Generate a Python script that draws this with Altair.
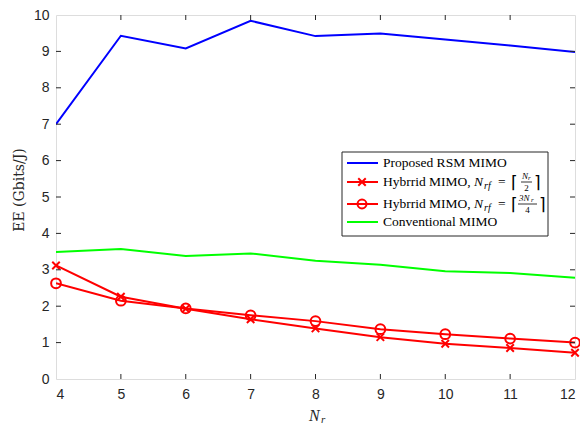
import altair as alt
import pandas as pd

# ---- data ----
nr = [4, 5, 6, 7, 8, 9, 10, 11, 12]
ee_rsm = [7.00, 9.43, 9.08, 9.84, 9.42, 9.49, 9.33, 9.16, 8.98]
ee_hyb_half = [3.12, 2.26, 1.93, 1.64, 1.39, 1.15, 0.97, 0.85, 0.72]
ee_hyb_3q = [2.63, 2.15, 1.94, 1.75, 1.59, 1.37, 1.23, 1.11, 1.00]
ee_conv = [3.49, 3.57, 3.38, 3.45, 3.25, 3.14, 2.96, 2.91, 2.78]
series = ["Proposed RSM MIMO", "Hybrid half", "Hybrid 3/4", "Conventional MIMO"]
x_ticks = [4, 5, 6, 7, 8, 9, 10, 11, 12]
y_ticks = [0, 1, 2, 3, 4, 5, 6, 7, 8, 9, 10]

W, H = 519, 364
FRAME = "#262626"
SERIF = "Liberation Serif"
SANS = "Liberation Sans"

rows = []
for s, vals in zip(series, [ee_rsm, ee_hyb_half, ee_hyb_3q, ee_conv]):
    for n, v in zip(nr, vals):
        rows.append({"Nr": n, "EE": v, "series": s})
df = pd.DataFrame(rows)

xs = alt.Scale(domain=[4, 12], nice=False, zero=False)
ys = alt.Scale(domain=[0, 10], nice=False)
color = alt.Scale(domain=series, range=["#0000FF", "#FF0000", "#FF0000", "#00FF00"])

ax_x = alt.Axis(values=x_ticks, format="d", title=None, domain=False, ticks=False,
                grid=False, labelOverlap=False, labelFont=SANS, labelFontSize=14,
                labelColor=FRAME, labelPadding=8)
ax_y = alt.Axis(values=y_ticks, format="d", title=None, domain=False, ticks=False,
                grid=False, labelOverlap=False, labelFont=SANS, labelFontSize=14,
                labelColor=FRAME, labelPadding=7)

def X(f):
    return alt.X(f, scale=xs, axis=ax_x)

def Y(f):
    return alt.Y(f, scale=ys, axis=ax_y)

X_PATH = "M-1,-1L1,1M-1,1L1,-1"

lines = alt.Chart(df).mark_line(strokeWidth=2, clip=True).encode(
    x=X("Nr:Q"), y=Y("EE:Q"),
    color=alt.Color("series:N", scale=color, legend=None),
    detail="series:N",
)

pts_x = alt.Chart(df[df.series == "Hybrid half"]).mark_point(
    shape=X_PATH, size=56, filled=False, strokeWidth=2, color="#FF0000", opacity=1
).encode(x=X("Nr:Q"), y=Y("EE:Q"))

pts_o = alt.Chart(df[df.series == "Hybrid 3/4"]).mark_point(
    shape="circle", size=95, filled=False, strokeWidth=2, color="#FF0000", opacity=1
).encode(x=X("Nr:Q"), y=Y("EE:Q"))

# inward ticks on all four sides
tx = pd.DataFrame({"Nr": x_ticks[1:-1]})
ty = pd.DataFrame({"EE": y_ticks[1:-1]})
tick_b = alt.Chart(tx).mark_rule(color=FRAME, strokeWidth=1).encode(
    x=X("Nr:Q"), y=alt.value(H), y2=alt.value(H - 5))
tick_t = alt.Chart(tx).mark_rule(color=FRAME, strokeWidth=1).encode(
    x=X("Nr:Q"), y=alt.value(0), y2=alt.value(5))
tick_l = alt.Chart(ty).mark_rule(color=FRAME, strokeWidth=1).encode(
    y=Y("EE:Q"), x=alt.value(0), x2=alt.value(5))
tick_r = alt.Chart(ty).mark_rule(color=FRAME, strokeWidth=1).encode(
    y=Y("EE:Q"), x=alt.value(W - 5), x2=alt.value(W))

def txt(s, x, y, size=13.5, style="normal", align="left", angle=0, font=SERIF, color="#000000"):
    kw = dict(text=s, font=font, fontSize=size, fontStyle=style, align=align,
              baseline="middle", color=color)
    if angle:
        kw["angle"] = angle
    return alt.Chart(pd.DataFrame({"a": [0]})).mark_text(**kw).encode(
        x=alt.value(x), y=alt.value(y))

def rule(x1, x2, y1, y2, color, width=2):
    return alt.Chart(pd.DataFrame({"a": [0]})).mark_rule(color=color, strokeWidth=width).encode(
        x=alt.value(x1), x2=alt.value(x2), y=alt.value(y1), y2=alt.value(y2))

def sym(shape, x, y, size):
    return alt.Chart(pd.DataFrame({"a": [0]})).mark_point(
        shape=shape, size=size, filled=False, strokeWidth=2, color="#FF0000", opacity=1
    ).encode(x=alt.value(x), y=alt.value(y))

# titles
y_title = txt("EE (Gbits/J)", -36, 175, size=14, angle=270, align="center",
              font="DejaVu Serif", color=FRAME)
x_title_n = txt("N", 253, 401, size=16, style="italic", color=FRAME)
x_title_r = txt("r", 265, 405, size=11, style="italic", color=FRAME)

# legend
LX0, LX1, LY0, LY1 = 286, 492, 137, 221
legend_box = alt.Chart(pd.DataFrame({"a": [0]})).mark_rect(
    fill="white", stroke=FRAME, strokeWidth=1).encode(
    x=alt.value(LX0), x2=alt.value(LX1), y=alt.value(LY0), y2=alt.value(LY1))
r1, r2, r3, r4 = 148, 167, 189, 207
sx0, sx1, sxm, tx0 = 291, 322, 306, 327
d = 2
leg = [
    legend_box,
    rule(sx0, sx1, r1, r1, "#0000FF"), txt("Proposed RSM MIMO", tx0, r1),
    rule(sx0, sx1, r2, r2, "#FF0000"), sym(X_PATH, sxm, r2, 56),
    txt("Hybrrid MIMO,", tx0, r2),
    txt("N", 416 + d, r2, style="italic"), txt("rf", 426 + d, r2 + 4, size=10, style="italic"),
    txt("=", 440 + d, r2), txt("\u2308", 453 + d, r2 + 1, size=17),
    txt("N", 464 + d, r2 - 6, size=9, style="italic"),
    txt("r", 470 + d, r2 - 4, size=7, style="italic"),
    rule(463 + d, 474 + d, r2, r2, "#000000", 0.8),
    txt("2", 468.5 + d, r2 + 6, size=9, align="center"),
    txt("\u2309", 476 + d, r2 + 1, size=17),
    rule(sx0, sx1, r3, r3, "#FF0000"), sym("circle", sxm, r3, 80),
    txt("Hybrrid MIMO,", tx0, r3),
    txt("N", 416 + d, r3, style="italic"), txt("rf", 426 + d, r3 + 4, size=10, style="italic"),
    txt("=", 440 + d, r3), txt("\u2308", 453 + d, r3 + 1, size=17),
    txt("3N", 461 + d, r3 - 6, size=9, style="italic"),
    txt("r", 473 + d, r3 - 4, size=7, style="italic"),
    rule(460 + d, 479 + d, r3, r3, "#000000", 0.8),
    txt("4", 469.5 + d, r3 + 6, size=9, align="center"),
    txt("\u2309", 481 + d, r3 + 1, size=17),
    rule(sx0, sx1, r4, r4, "#00FF00"), txt("Conventional MIMO", tx0, r4),
]

chart = alt.layer(
    lines, pts_x, pts_o, tick_b, tick_t, tick_l, tick_r,
    y_title, x_title_n, x_title_r, *leg
).properties(
    width=W, height=H,
    autosize=alt.AutoSizeParams(type="none"),
    padding={"left": 48, "top": 7, "right": 5, "bottom": 47},
).configure_view(stroke=FRAME, strokeWidth=1).configure(background="white")

chart.save("out.html", embed_options={"renderer": "svg", "actions": False})
